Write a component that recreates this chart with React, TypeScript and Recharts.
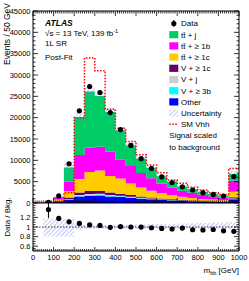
import {
  Area,
  ComposedChart,
  ErrorBar,
  Line,
  ReferenceLine,
  Scatter,
  XAxis,
  YAxis,
} from "recharts";

const FONT = "'Liberation Sans', Arial, Helvetica, sans-serif";

// 50 GeV bins, last one is the overflow bin
const binEdges = [0, 50, 100, 150, 200, 250, 300, 350, 400, 450, 500, 550, 600, 650, 700, 750, 800, 850, 900, 950, 1000];
const binCenters = [25, 75, 125, 175, 225, 275, 325, 375, 425, 475, 525, 575, 625, 675, 725, 775, 825, 875, 925, 975];

const dataEvents = [null, 150, 1650, 9200, 21600, 27300, 25900, 21200, 17200, 13500, 10400, 8100, 6100, 4800, 3800, 3050, 2420, 2000, 1640, 6200];
const ratioErr = [null, 0.18, 0.03, 0.012, 0.008, 0.007, 0.007, 0.007, 0.008, 0.009, 0.01, 0.011, 0.013, 0.015, 0.016, 0.018, 0.02, 0.022, 0.025, 0.013];

const other = [0, 30, 300, 800, 1550, 1700, 1750, 1550, 1400, 1200, 1000, 850, 700, 580, 480, 400, 330, 270, 240, 900];
const vPlus3b = [0, 5, 20, 100, 200, 220, 220, 200, 180, 150, 120, 100, 80, 70, 60, 50, 40, 35, 30, 100];
const vPlusJ = [0, 5, 20, 60, 150, 170, 170, 150, 130, 120, 100, 80, 60, 50, 40, 35, 30, 25, 20, 70];
const vPlus1c = [0, 10, 60, 300, 550, 700, 650, 550, 450, 380, 300, 250, 200, 160, 130, 100, 80, 70, 60, 250];
const ttPlus1c = [0, 20, 350, 1500, 3200, 4500, 4800, 3900, 3600, 2700, 2100, 1600, 1250, 950, 750, 600, 480, 400, 320, 1300];
const ttPlus1b = [0, 20, 400, 2300, 5600, 5650, 5600, 5700, 4400, 4100, 3400, 2900, 2300, 1800, 1400, 1200, 950, 780, 640, 2600];
const ttPlusJ = [0, 20, 250, 3250, 8850, 13200, 11900, 9300, 6900, 4850, 3400, 2450, 1700, 1400, 1030, 850, 670, 530, 470, 1600];

const signalVhh = [0, 0, 300, 2400, 20000, 34000, 31000, 22000, 17500, 14400, 11300, 8900, 7100, 5400, 4600, 3700, 3050, 2400, 2000, 8100];

const uncUp = [null, 0.17, 0.17, 0.17, 0.05, 0.04, 0.04, 0.04, 0.045, 0.05, 0.055, 0.06, 0.065, 0.07, 0.075, 0.08, 0.085, 0.09, 0.1, 0.1];
const uncDown = [null, 0.2, 0.2, 0.2, 0.05, 0.04, 0.035, 0.035, 0.035, 0.035, 0.035, 0.035, 0.035, 0.035, 0.035, 0.035, 0.035, 0.035, 0.035, 0.035];

const xMajor = [0, 100, 200, 300, 400, 500, 600, 700, 800, 900, 1000];
const yMajor = [0, 5000, 10000, 15000, 20000, 25000, 30000, 35000, 40000, 45000];
const rMajor = [0.6, 0.8, 1, 1.2];

const series = [
  { key: "other", name: "Other", color: "#0000ff", values: other },
  { key: "v3b", name: "V + \u2265 3b", color: "#00ffff", values: vPlus3b },
  { key: "vj", name: "V + j", color: "#cccccc", values: vPlusJ },
  { key: "v1c", name: "V + \u2265 1c", color: "#660066", values: vPlus1c },
  { key: "tt1c", name: "tt\u0304 + \u2265 1c", color: "#ffcc00", values: ttPlus1c },
  { key: "tt1b", name: "tt\u0304 + \u2265 1b", color: "#ff00ff", values: ttPlus1b },
  { key: "ttj", name: "tt\u0304 + j", color: "#00cc66", values: ttPlusJ },
];

const range = (a: number, b: number, s: number) => {
  const out: number[] = [];
  for (let v = a; v <= b + 1e-9; v += s) out.push(Math.round(v * 1000) / 1000);
  return out;
};
const xTicks = range(0, 1000, 10);
const yTicks = range(0, 45000, 1000);
const rTicks = range(0.55, 1.45, 0.05);

const totals = binCenters.map((_, i) => series.reduce((s, d) => s + d.values[i], 0));

const mainRows = binEdges.map((x, j) => {
  const i = Math.min(j, binCenters.length - 1);
  const row: any = { x, sig: signalVhh[i] };
  series.forEach((s) => (row[s.key] = s.values[i]));
  row.band = uncUp[i] == null ? null : [totals[i] * (1 - uncDown[i]!), totals[i] * (1 + uncUp[i]!)];
  return row;
});

const ratioRows = binEdges.map((x, j) => {
  const i = Math.min(j, binCenters.length - 1);
  return { x, band: uncUp[i] == null ? null : [1 - uncDown[i]!, 1 + uncUp[i]!] };
});

const mainPts = binCenters
  .map((x, i) => (dataEvents[i] == null ? null : { x, y: dataEvents[i] }))
  .filter(Boolean);
const ratioPts = binCenters
  .map((x, i) => (dataEvents[i] == null ? null : { x, r: dataEvents[i]! / totals[i], e: ratioErr[i] }))
  .filter(Boolean);

const isMajor = (majors: number[], v: number) => majors.some((m) => Math.abs(m - v) < 1e-6);

// inward ticks, ROOT style
const leftTick = (majors: number[], big: number, small: number) => (p: any) => {
  const v = p.payload.value;
  const maj = isMajor(majors, v);
  const ax = p.x + 2;
  return (
    <g>
      <line x1={ax} x2={ax + (maj ? big : small)} y1={p.y} y2={p.y} stroke="#000" strokeWidth={0.8} />
      {maj && (
        <text x={p.x - 0.5} y={p.y + 2.7} textAnchor="end" fontSize={7.5} fontFamily={FONT} fill="#000">
          {v}
        </text>
      )}
    </g>
  );
};
const rightTick = (majors: number[], big: number, small: number) => (p: any) => {
  const maj = isMajor(majors, p.payload.value);
  return <line x1={p.x} x2={p.x - (maj ? big : small)} y1={p.y} y2={p.y} stroke="#000" strokeWidth={0.8} />;
};
const topTick = (p: any) => {
  const maj = isMajor(xMajor, p.payload.value);
  return <line x1={p.x} x2={p.x} y1={p.y} y2={p.y + (maj ? 5 : 2.5)} stroke="#000" strokeWidth={0.8} />;
};
const bottomTick = (big: number, small: number, labels: boolean) => (p: any) => {
  const v = p.payload.value;
  const maj = isMajor(xMajor, v);
  return (
    <g>
      <line x1={p.x} x2={p.x} y1={p.y} y2={p.y - (maj ? big : small)} stroke="#000" strokeWidth={0.8} />
      {labels && maj && (
        <text x={p.x} y={p.y + 9} textAnchor="middle" fontSize={7.5} fontFamily={FONT} fill="#000">
          {v}
        </text>
      )}
    </g>
  );
};

const dot = (p: any) => <circle cx={p.cx} cy={p.cy} r={2.6} fill="#000" />;

const legendRows = [
  { label: "Data", kind: "data" },
  { label: "tt\u0304 + j", kind: "box", color: "#00cc66" },
  { label: "tt\u0304 + \u2265 1b", kind: "box", color: "#ff00ff" },
  { label: "tt\u0304 + \u2265 1c", kind: "box", color: "#ffcc00" },
  { label: "V + \u2265 1c", kind: "box", color: "#660066" },
  { label: "V + j", kind: "box", color: "#cccccc" },
  { label: "V + \u2265 3b", kind: "box", color: "#00ffff" },
  { label: "Other", kind: "box", color: "#0000ff" },
  { label: "Uncertainty", kind: "hatch" },
  { label: "SM Vhh", kind: "sig" },
];

export default function App() {
  return (
    <div style={{ position: "absolute", left: 0, top: 0, width: 249, height: 281, background: "#fff", fontFamily: FONT }}>
      <svg width={0} height={0} style={{ position: "absolute" }}>
        <defs>
          <pattern id="hatch" patternUnits="userSpaceOnUse" width={3} height={3} patternTransform="rotate(45)">
            <line x1={0} y1={0} x2={0} y2={3} stroke="#7b7bff" strokeWidth={0.9} />
          </pattern>
        </defs>
      </svg>

      <div style={{ position: "absolute", left: 0, top: 0 }}>
        <ComposedChart width={249} height={211} data={mainRows} margin={{ top: 10, right: 9, bottom: 7, left: 0 }}>
          {series.map((s) => (
            <Area
              key={s.key}
              type="stepAfter"
              dataKey={s.key}
              stackId="bkg"
              fill={s.color}
              fillOpacity={1}
              stroke="none"
              isAnimationActive={false}
            />
          ))}
          <Area type="stepAfter" dataKey="band" fill="url(#hatch)" fillOpacity={1} stroke="none" isAnimationActive={false} />
          <Line
            type="stepAfter"
            dataKey="sig"
            stroke="#ff0000"
            strokeWidth={1.5}
            strokeDasharray="1.5 1.5"
            dot={false}
            isAnimationActive={false}
          />
          <Scatter data={mainPts} dataKey="y" shape={dot} isAnimationActive={false} />
          <XAxis
            dataKey="x"
            type="number"
            domain={[0, 1000]}
            allowDataOverflow
            ticks={xTicks}
            interval={0}
            height={1}
            tickSize={0}
            tickMargin={0}
            tickLine={false}
            axisLine={{ stroke: "#000" }}
            tick={bottomTick(5, 2.5, false)}
          />
          <XAxis
            xAxisId="t"
            orientation="top"
            dataKey="x"
            type="number"
            domain={[0, 1000]}
            allowDataOverflow
            ticks={xTicks}
            interval={0}
            height={1}
            tickSize={0}
            tickMargin={0}
            tickLine={false}
            axisLine={{ stroke: "#000" }}
            tick={topTick}
          />
          <YAxis
            type="number"
            domain={[0, 45000]}
            allowDataOverflow
            ticks={yTicks}
            interval={0}
            width={33}
            tickSize={0}
            tickMargin={2}
            tickLine={false}
            axisLine={{ stroke: "#000" }}
            tick={leftTick(yMajor, 5, 2.5)}
          />
          <YAxis
            yAxisId="r"
            orientation="right"
            type="number"
            domain={[0, 45000]}
            allowDataOverflow
            ticks={yTicks}
            interval={0}
            width={1}
            tickSize={0}
            tickMargin={0}
            tickLine={false}
            axisLine={{ stroke: "#000" }}
            tick={rightTick(yMajor, 5, 2.5)}
          />
        </ComposedChart>
      </div>

      <div style={{ position: "absolute", left: 0, top: 203 }}>
        <ComposedChart width={249} height={78} data={ratioRows} margin={{ top: 0, right: 9, bottom: 0, left: 0 }}>
          <Area type="stepAfter" dataKey="band" fill="url(#hatch)" fillOpacity={1} stroke="none" isAnimationActive={false} />
          <ReferenceLine y={1} stroke="#000" strokeWidth={0.8} strokeDasharray="1.5 1.5" />
          <Scatter data={ratioPts} dataKey="r" shape={dot} isAnimationActive={false}>
            <ErrorBar dataKey="e" direction="y" width={0} stroke="#000" strokeWidth={1} />
          </Scatter>
          <XAxis
            dataKey="x"
            type="number"
            domain={[0, 1000]}
            allowDataOverflow
            ticks={xTicks}
            interval={0}
            height={30}
            tickSize={0}
            tickMargin={0}
            tickLine={false}
            axisLine={{ stroke: "#000" }}
            tick={bottomTick(4, 2, true)}
          />
          <YAxis
            type="number"
            domain={[0.5, 1.5]}
            allowDataOverflow
            ticks={rTicks}
            interval={0}
            width={33}
            tickSize={0}
            tickMargin={2}
            tickLine={false}
            axisLine={{ stroke: "#000" }}
            tick={leftTick(rMajor, 5, 2.5)}
          />
          <YAxis
            yAxisId="r"
            orientation="right"
            type="number"
            domain={[0.5, 1.5]}
            allowDataOverflow
            ticks={rTicks}
            interval={0}
            width={1}
            tickSize={0}
            tickMargin={0}
            tickLine={false}
            axisLine={{ stroke: "#000" }}
            tick={rightTick(rMajor, 5, 2.5)}
          />
        </ComposedChart>
      </div>

      <svg width={249} height={281} style={{ position: "absolute", left: 0, top: 0, pointerEvents: "none" }} fontFamily={FONT}>
        <text transform="translate(9.5,3) rotate(-90)" textAnchor="end" fontSize={8.5}>
          Events / 50 GeV
        </text>
        <text transform="translate(9.5,217) rotate(-90)" textAnchor="middle" fontSize={8}>
          Data / Bkg.
        </text>
        <text x={239} y={273} textAnchor="end" fontSize={8}>
          m<tspan fontSize={5.5} dy={1.8}>bb</tspan>
          <tspan dy={-1.8}> [GeV]</tspan>
        </text>

        <text x={45} y={26} fontSize={8.5} fontWeight="bold" fontStyle="italic">ATLAS</text>
        <text x={45} y={36} fontSize={8}>
          {"\u221As = 13 TeV, 139 fb"}
          <tspan fontSize={5.5} dy={-3}>-1</tspan>
        </text>
        <text x={45} y={46} fontSize={8}>1L SR</text>
        <text x={45} y={60} fontSize={8}>Post-Fit</text>

        {legendRows.map((r, k) => {
          const cy = 23.5 + k * 11.2;
          return (
            <g key={r.label}>
              {r.kind === "data" && (
                <g>
                  <line x1={173.8} x2={173.8} y1={cy - 3.5} y2={cy + 3.5} stroke="#000" strokeWidth={1} />
                  <circle cx={173.8} cy={cy} r={2.6} fill="#000" />
                </g>
              )}
              {r.kind === "box" && <rect x={169.3} y={cy - 3.6} width={9} height={7.2} fill={r.color} />}
              {r.kind === "hatch" && <rect x={169.3} y={cy - 3.6} width={9} height={7.2} fill="url(#hatch)" />}
              {r.kind === "sig" && (
                <line x1={169.3} x2={178.3} y1={cy} y2={cy} stroke="#ff0000" strokeWidth={1.5} strokeDasharray="1.5 1.5" />
              )}
              <text x={181} y={cy + 2.8} fontSize={8}>
                {r.label}
              </text>
            </g>
          );
        })}
        <text x={169.3} y={23.5 + 10 * 11.2 + 2.8} fontSize={8}>Signal scaled</text>
        <text x={169.3} y={23.5 + 11 * 11.2 + 2.8} fontSize={8}>to background</text>
      </svg>
    </div>
  );
}
